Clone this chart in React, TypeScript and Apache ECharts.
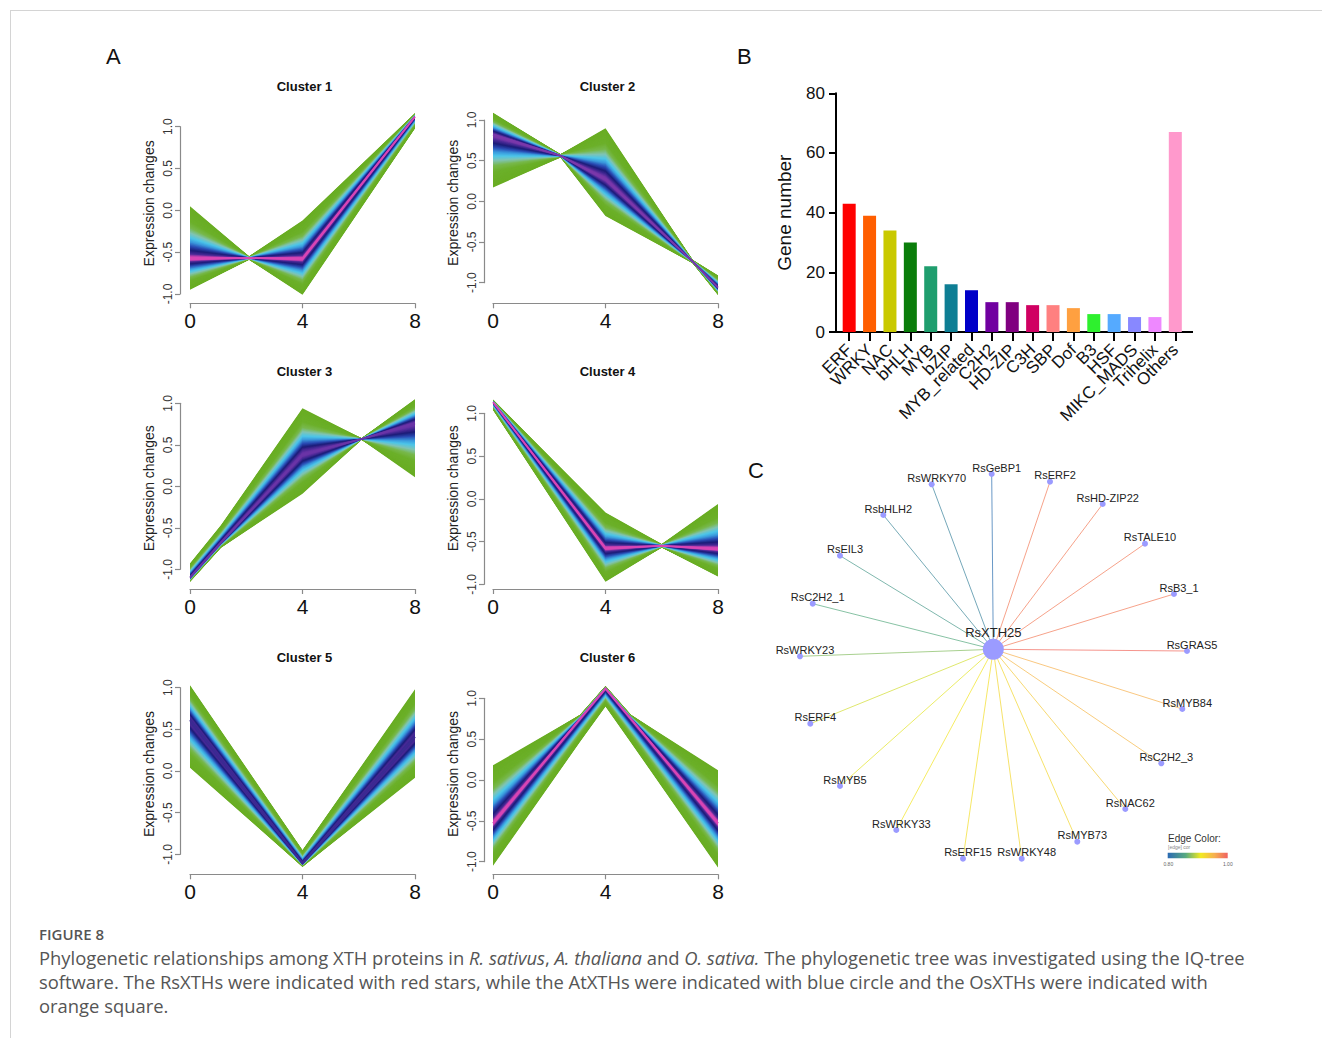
import { useEffect, useRef } from 'react';
import * as echarts from 'echarts';

const FONT = 'Arial, "Liberation Sans", Helvetica, sans-serif';
const CAPFONT = '"Open Sans", "Noto Sans", sans-serif';

// ---------------- Panel A: expression clusters ----------------
const clusterTitles = ['Cluster 1', 'Cluster 2', 'Cluster 3', 'Cluster 4', 'Cluster 5', 'Cluster 6'];

const c1X = [0, 2.1, 4, 8];
const c1Top = [0.05, -0.55, -0.12, 1.16];
const c1Mid = [-0.58, -0.57, -0.58, 1.12];
const c1Bot = [-0.95, -0.59, -1.01, 0.98];

const c2X = [0, 2.4, 4, 7.1, 8];
const c2Top = [1.09, 0.58, 0.9, -0.72, -0.91];
const c2Mid = [0.82, 0.56, 0.27, -0.74, -1.06];
const c2Bot = [0.17, 0.54, -0.18, -0.76, -1.15];

const c3X = [0, 1.1, 4, 6.1, 8];
const c3Top = [-0.93, -0.47, 0.94, 0.58, 1.05];
const c3Mid = [-1.1, -0.68, 0.38, 0.57, 0.76];
const c3Bot = [-1.15, -0.74, -0.09, 0.56, 0.11];

const c4X = [0, 4, 6, 8];
const c4Top = [1.16, -0.16, -0.53, -0.06];
const c4Mid = [1.13, -0.58, -0.55, -0.59];
const c4Bot = [1.04, -0.97, -0.57, -0.91];

const c5X = [0, 4, 8];
const c5Top = [1.03, -0.95, 0.98];
const c5Mid = [0.61, -1.11, 0.41];
const c5Bot = [0.04, -1.15, -0.08];

const c6X = [0, 3.1, 4, 4.9, 8];
const c6Top = [0.18, 0.8, 1.15, 0.8, 0.12];
const c6Mid = [-0.53, 0.75, 1.12, 0.75, -0.53];
const c6Bot = [-1.05, 0.47, 0.9, 0.46, -1.07];

const clusterX = [c1X, c2X, c3X, c4X, c5X, c6X];
const clusterTop = [c1Top, c2Top, c3Top, c4Top, c5Top, c6Top];
const clusterMid = [c1Mid, c2Mid, c3Mid, c4Mid, c5Mid, c6Mid];
const clusterBot = [c1Bot, c2Bot, c3Bot, c4Bot, c5Bot, c6Bot];

// layout of the six small plots (pixel boxes of the -1..1 / 0..8 region)
const clusterBoxes = [
  { left: 190, top: 126.7, width: 225, height: 167.3, xOff: 9.3, yOff: 10, nameShift: 7 },
  { left: 493, top: 120, width: 225, height: 162.7, xOff: 20.6, yOff: 9, nameShift: -1.5 },
  { left: 190, top: 403.3, width: 225, height: 166, xOff: 19.7, yOff: 10, nameShift: -2 },
  { left: 493, top: 413.3, width: 225, height: 171, xOff: 4.7, yOff: 9, nameShift: 10.5 },
  { left: 190, top: 687.7, width: 225, height: 166.6, xOff: 20, yOff: 10, nameShift: -3 },
  { left: 493, top: 698.3, width: 225, height: 163.4, xOff: 12.6, yOff: 9, nameShift: 6 },
];
const clusterTitleY = [86, 86, 371, 371, 657, 657];
const clusterCore = ['#d845b5', '#7a38aa', '#6a34a6', '#d845b5', '#3c2a92', '#d845b5'];

// ---------------- Panel B: TF families ----------------
const barCategories = ['ERF', 'WRKY', 'NAC', 'bHLH', 'MYB', 'bZIP', 'MYB_related', 'C2H2', 'HD-ZIP', 'C3H', 'SBP', 'Dof', 'B3', 'HSF', 'MIKC_MADS', 'Trihelix', 'Others'];
const barValues = [43, 39, 34, 30, 22, 16, 14, 10, 10, 9, 9, 8, 6, 6, 5, 5, 67];
const barColors = ['#ff0000', '#ff5e00', '#c9c900', '#0a7d0a', '#1f9e6e', '#0e7e94', '#0000c8', '#7000a0', '#800080', '#d00062', '#ff8080', '#ffa040', '#2ef02e', '#55aaff', '#8888ff', '#ee88ff', '#ff99cc'];

// ---------------- Panel C: co-expression network ----------------
const hubName = 'RsXTH25';
const netNodes = ['RsGeBP1', 'RsWRKY70', 'RsERF2', 'RsHD-ZIP22', 'RsbHLH2', 'RsTALE10', 'RsEIL3', 'RsB3_1', 'RsC2H2_1', 'RsGRAS5', 'RsWRKY23', 'RsMYB84', 'RsERF4', 'RsC2H2_3', 'RsMYB5', 'RsNAC62', 'RsWRKY33', 'RsMYB73', 'RsERF15', 'RsWRKY48'];
const netX = [-1.6, -61.6, 56.7, 109.4, -110, 151.7, -153.3, 180.7, -180.6, 193.7, -193.3, 189, -183, 168, -153.3, 132, -97, 84, -30.3, 28.4];
const netY = [-175.3, -165, -167.6, -145.3, -134.3, -105.6, -93.6, -55.3, -45.6, 1.7, 7, 59.7, 74.4, 114, 136.7, 159.7, 180.7, 192.4, 209.4, 209.4];
const netCor = [0.805, 0.825, 0.985, 0.985, 0.83, 0.985, 0.845, 0.985, 0.86, 0.995, 0.875, 0.955, 0.9, 0.95, 0.905, 0.935, 0.915, 0.925, 0.92, 0.925];
const corRange = [0.8, 1.0];
const corTickLabels = ['0.80', '1.00'];

// ---------------- caption ----------------
const figureLabel = 'FIGURE 8';
const captionLines = [
  'Phylogenetic relationships among XTH proteins in {i|R. sativus}, {i|A. thaliana} and {i|O. sativa.} The phylogenetic tree was investigated using the IQ-tree',
  'software. The RsXTHs were indicated with red stars, while the AtXTHs were indicated with blue circle and the OsXTHs were indicated with',
  'orange square.',
];

// ---------------- helpers ----------------
function hexToRgb(h: string) {
  const n = parseInt(h.slice(1), 16);
  return [(n >> 16) & 255, (n >> 8) & 255, n & 255];
}
function interp(stops: [number, string][], t: number) {
  if (t <= stops[0][0]) return stops[0][1];
  for (let i = 1; i < stops.length; i++) {
    if (t <= stops[i][0]) {
      const [t0, c0] = stops[i - 1];
      const [t1, c1] = stops[i];
      const u = (t - t0) / (t1 - t0 || 1);
      const a = hexToRgb(c0);
      const b = hexToRgb(c1);
      const r = a.map((v, k) => Math.round(v + (b[k] - v) * u));
      return `rgb(${r[0]},${r[1]},${r[2]})`;
    }
  }
  return stops[stops.length - 1][1];
}
const edgeStops: [number, string][] = [
  [0, '#2a6ab4'],
  [0.3, '#58aa80'],
  [0.55, '#f2ea20'],
  [0.78, '#f6b050'],
  [1, '#f06262'],
];
function corColor(c: number) {
  return interp(edgeStops, (c - corRange[0]) / (corRange[1] - corRange[0]));
}
function bandStops(core: string): [number, string][] {
  return [
    [0, core],
    [0.045, core],
    [0.1, '#4a2a96'],
    [0.17, '#1c1c78'],
    [0.25, '#2a4cb4'],
    [0.33, '#3a98dc'],
    [0.41, '#4cc6ea'],
    [0.5, '#80c4b4'],
    [0.6, '#78b84c'],
    [0.72, '#6cb02a'],
    [1, '#69ad23'],
  ];
}

function bandRenderer(k: number) {
  const xs = clusterX[k];
  const top = clusterTop[k];
  const mid = clusterMid[k];
  const bot = clusterBot[k];
  const stops = bandStops(clusterCore[k]);
  return (_params: any, api: any) => {
    const children: any[] = [];
    const N = 60;
    for (let j = N; j >= 1; j--) {
      const f = j / N;
      const pts: number[][] = [];
      for (let i = 0; i < xs.length; i++) pts.push(api.coord([xs[i], mid[i] + f * (top[i] - mid[i])]));
      for (let i = xs.length - 1; i >= 0; i--) pts.push(api.coord([xs[i], mid[i] + f * (bot[i] - mid[i])]));
      children.push({ type: 'polygon', silent: true, shape: { points: pts }, style: { fill: interp(stops, f) } });
    }
    children.push({
      type: 'polyline',
      silent: true,
      shape: { points: xs.map((x, i) => api.coord([x, mid[i]])) },
      style: { stroke: clusterCore[k], lineWidth: 2, fill: null },
    });
    return { type: 'group', children };
  };
}

function txt(x: number, y: number, text: string, size: number, opts: any = {}) {
  return {
    type: 'text',
    x,
    y,
    silent: true,
    style: {
      text,
      fontSize: size,
      fontFamily: opts.family || FONT,
      fontWeight: opts.weight || 'normal',
      fill: opts.color || '#111',
      textAlign: opts.align || 'left',
      textVerticalAlign: 'middle',
      align: opts.align || 'left',
      verticalAlign: 'middle',
      rich: opts.rich,
    },
  };
}

function buildOption() {
  const grids: any[] = [];
  const xAxes: any[] = [];
  const yAxes: any[] = [];
  const series: any[] = [];
  const graphic: any[] = [];

  // Panel A
  clusterBoxes.forEach((b, k) => {
    grids.push({ left: b.left, top: b.top, width: b.width, height: b.height });
    xAxes.push({
      type: 'value', gridIndex: k, min: 0, max: 8, interval: 4, offset: b.xOff, position: 'bottom',
      axisLine: { show: true, onZero: false, lineStyle: { color: '#8a8a8a', width: 1.2 } },
      axisTick: { show: true, length: 5, lineStyle: { color: '#8a8a8a', width: 1.2 } },
      axisLabel: { fontSize: 21, color: '#111', fontFamily: FONT, margin: 7 },
      splitLine: { show: false },
    });
    const s = b.nameShift;
    yAxes.push({
      type: 'value', gridIndex: k, min: -1, max: 1, interval: 0.5, offset: b.yOff, position: 'left',
      axisLine: { show: true, onZero: false, lineStyle: { color: '#8a8a8a', width: 1.2 } },
      axisTick: { show: true, length: 5, lineStyle: { color: '#8a8a8a', width: 1.2 } },
      axisLabel: { rotate: 90, fontSize: 12, color: '#333', fontFamily: FONT, margin: 6, formatter: (v: number) => v.toFixed(1) },
      splitLine: { show: false },
      name: 'Expression changes', nameLocation: 'middle', nameGap: 24,
      nameTextStyle: {
        fontSize: 14, color: '#222', fontFamily: FONT,
        padding: [0, s < 0 ? -2 * s : 0, 0, s > 0 ? 2 * s : 0],
      },
    });
    series.push({
      type: 'custom', xAxisIndex: k, yAxisIndex: k, clip: false, silent: true,
      data: [[0, 0]],
      renderItem: bandRenderer(k),
    });
    graphic.push(txt(b.left + b.width / 2 + 2, clusterTitleY[k], clusterTitles[k], 13, { weight: 'bold', align: 'center' }));
  });

  // Panel B
  grids.push({ left: 839, top: 93.3, width: 346.5, height: 238.7 });
  xAxes.push({
    type: 'category', gridIndex: 6, data: barCategories,
    axisLine: { show: false },
    axisTick: { show: true, alignWithLabel: true, length: 9, lineStyle: { color: '#000', width: 2 } },
    axisLabel: { rotate: 45, fontSize: 17, color: '#111', fontFamily: FONT, interval: 0, margin: 15 },
  });
  yAxes.push({
    type: 'value', gridIndex: 6, min: 0, max: 80, interval: 20, offset: 3,
    axisLine: { show: true, lineStyle: { color: '#000', width: 2 } },
    axisTick: { show: true, length: 7, lineStyle: { color: '#000', width: 2 } },
    axisLabel: { fontSize: 17, color: '#111', fontFamily: FONT, margin: 11 },
    splitLine: { show: false },
    name: 'Gene number', nameLocation: 'middle', nameGap: 42,
    nameTextStyle: { fontSize: 19, color: '#111', fontFamily: FONT },
  });
  series.push({
    type: 'bar', xAxisIndex: 6, yAxisIndex: 6, barWidth: 13,
    data: barValues.map((v, i) => ({ value: v, itemStyle: { color: barColors[i] } })),
  });
  graphic.push({
    type: 'line', silent: true,
    shape: { x1: 835, y1: 332, x2: 1193, y2: 332 },
    style: { stroke: '#000', lineWidth: 2 },
  });

  // Panel C
  grids.push({ left: 793.3, top: 449.3, width: 400, height: 430 });
  xAxes.push({ type: 'value', gridIndex: 7, min: -200, max: 200, show: false });
  yAxes.push({ type: 'value', gridIndex: 7, min: -200, max: 230, inverse: true, show: false });
  const nodeData: any[] = [
    {
      name: hubName, value: [0, 0], symbolSize: 21,
      label: { show: true, position: 'top', distance: 0, offset: [0, 0], fontSize: 13, color: '#222', fontFamily: FONT },
    },
  ];
  netNodes.forEach((n, i) => nodeData.push({ name: n, value: [netX[i], netY[i]] }));
  series.push({
    type: 'graph', coordinateSystem: 'cartesian2d', xAxisIndex: 7, yAxisIndex: 7,
    layout: 'none', symbol: 'circle', symbolSize: 6,
    itemStyle: { color: '#9b9bff' },
    label: { show: true, position: 'top', distance: -2, offset: [5, 0], fontSize: 11, color: '#222', fontFamily: FONT },
    lineStyle: { width: 0.9, opacity: 0.8 },
    data: nodeData,
    links: netNodes.map((n, i) => ({ source: hubName, target: n, lineStyle: { color: corColor(netCor[i]) } })),
  });

  // edge colour legend
  graphic.push(txt(1168, 838, 'Edge Color:', 10, { color: '#333' }));
  graphic.push(txt(1168, 847, '[edge] cor', 5, { color: '#888' }));
  graphic.push({
    type: 'rect', silent: true,
    shape: { x: 1167.7, y: 852.7, width: 60, height: 5.6 },
    style: {
      fill: new echarts.graphic.LinearGradient(0, 0, 1, 0, edgeStops.map(([o, c]) => ({ offset: o, color: c }))),
    },
  });
  graphic.push(txt(1168.3, 863.5, corTickLabels[0], 5, { color: '#666', align: 'center' }));
  graphic.push(txt(1227.8, 863.5, corTickLabels[1], 5, { color: '#666', align: 'center' }));

  // panel letters
  graphic.push(txt(106, 56, 'A', 22, { color: '#111' }));
  graphic.push(txt(737, 56, 'B', 22, { color: '#111' }));
  graphic.push(txt(748, 470, 'C', 22, { color: '#111' }));

  // frame lines
  graphic.push({ type: 'line', silent: true, shape: { x1: 10, y1: 10.5, x2: 1322, y2: 10.5 }, style: { stroke: '#d4d4d4', lineWidth: 1 } });
  graphic.push({ type: 'line', silent: true, shape: { x1: 10.5, y1: 10, x2: 10.5, y2: 1038 }, style: { stroke: '#d4d4d4', lineWidth: 1 } });

  // caption
  graphic.push(txt(39, 934, figureLabel, 15, { color: '#555', weight: 600, family: CAPFONT }));
  const rich = {
    i: { fontStyle: 'italic', fontSize: 18.4, fontFamily: CAPFONT, fill: '#555', color: '#555' },
  };
  captionLines.forEach((line, i) => {
    graphic.push(txt(39, 957 + i * 24, line, 18.4, { color: '#555', family: CAPFONT, rich }));
  });

  return {
    animation: false,
    backgroundColor: '#ffffff',
    grid: grids,
    xAxis: xAxes,
    yAxis: yAxes,
    series,
    graphic,
  };
}

export default function App() {
  const ref = useRef<HTMLDivElement>(null);
  useEffect(() => {
    if (!ref.current) return;
    const chart = echarts.init(ref.current, null, { renderer: 'svg' });
    chart.setOption(buildOption() as any);
    return () => chart.dispose();
  }, []);
  return (
    <div
      ref={ref}
      style={{ position: 'absolute', left: 0, top: 0, width: 1322, height: 1038, background: '#fff' }}
    />
  );
}
